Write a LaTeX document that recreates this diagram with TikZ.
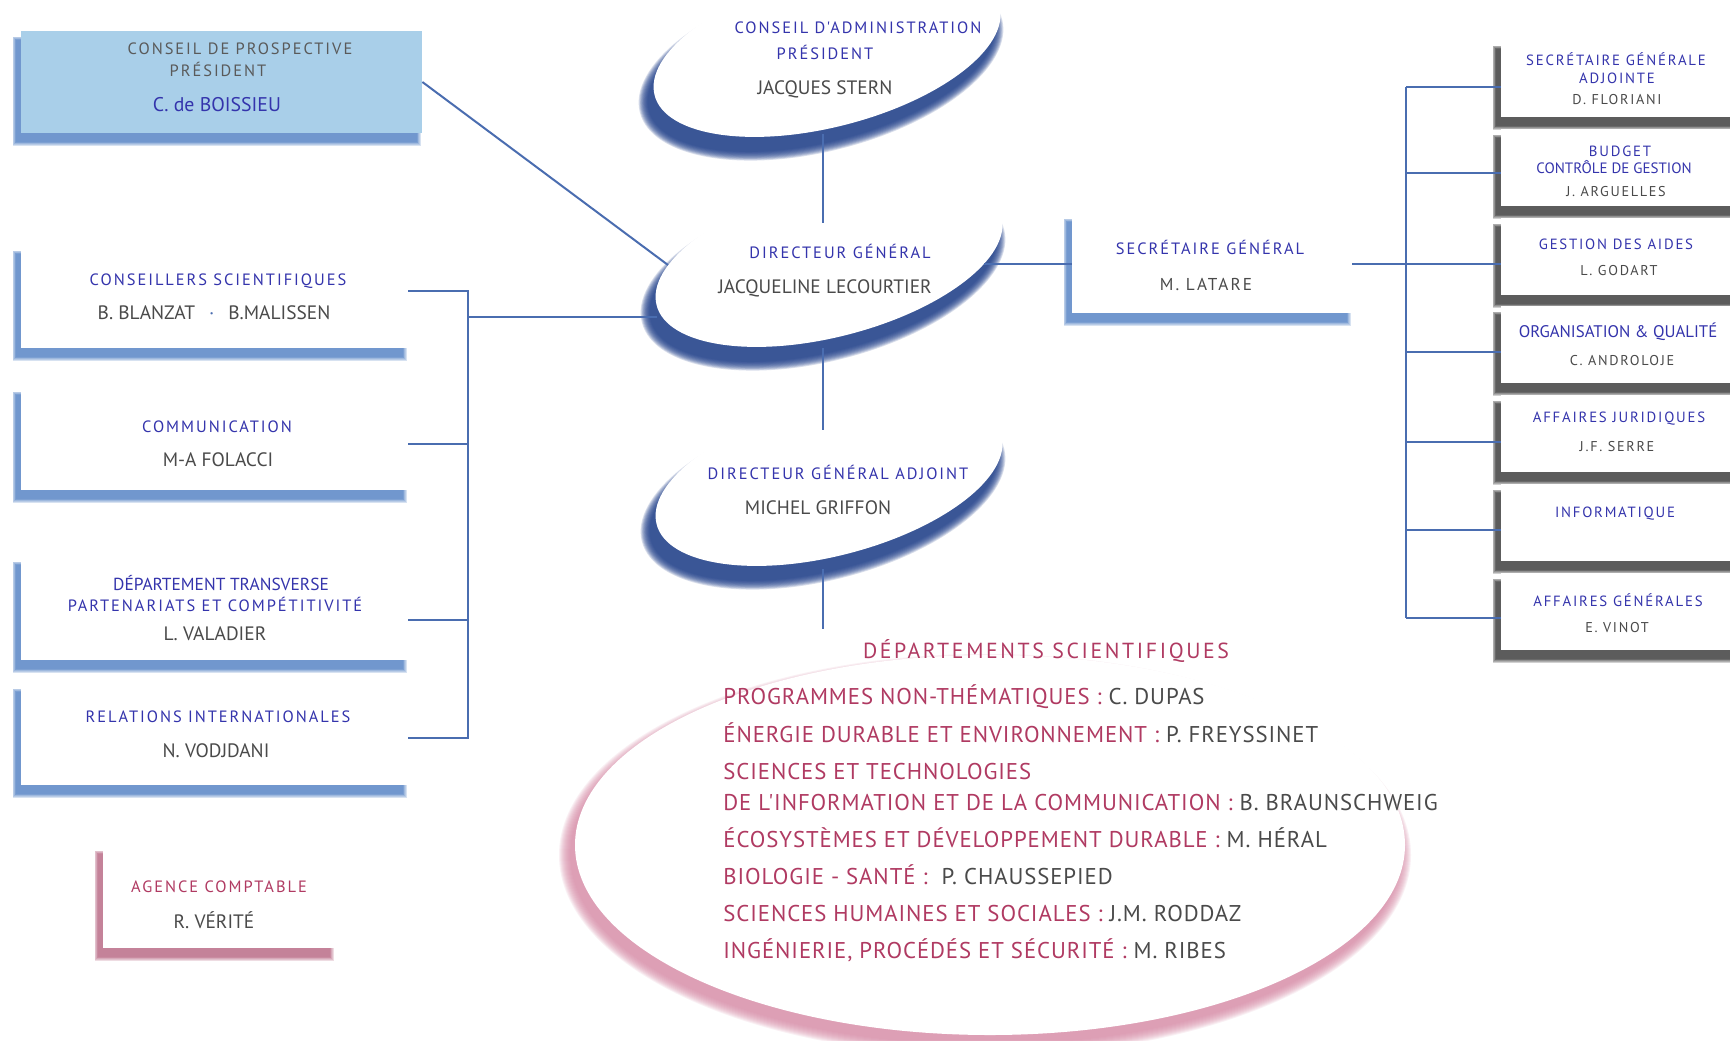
\documentclass[tikz,border=0pt]{standalone}
\usepackage{fontspec}
\setmainfont{PT Sans}
\newfontfamily\capsfont[LetterSpace=12]{PT Sans}
\newfontfamily\deptfont[LetterSpace=4]{PT Sans}
\usetikzlibrary{shapes.geometric,fit}
\definecolor{headblue}{HTML}{3434AC}
\definecolor{namegray}{HTML}{4A4A4A}
\definecolor{capgray}{HTML}{5A5A5A}
\definecolor{deptpink}{HTML}{B03A62}
\definecolor{linkblue}{HTML}{4A6DB0}
\definecolor{prospblue}{HTML}{A9CFE9}
\definecolor{ovalshade}{HTML}{1F3F8A}
\definecolor{cardshade}{HTML}{4A7BC2}
\definecolor{grayshade}{HTML}{2E2E2E}
\definecolor{pinkshade}{HTML}{D88AA6}
\definecolor{roseshade}{HTML}{B4607E}
\begin{document}
\begin{tikzpicture}[x=0.5pt,y=-0.5pt,
  head/.style={text=headblue,inner sep=0pt,text depth=0pt,text height=5.8pt,
    font=\capsfont\fontsize{8.2}{9}\selectfont},
  headr/.style={head,text height=5.2pt,font=\capsfont\fontsize{7.4}{8}\selectfont},
  tight/.style={head,font=\fontsize{8.4}{9}\selectfont},
  who/.style={text=namegray,inner sep=0pt,text depth=0pt,text height=6.8pt,
    font=\fontsize{9.7}{11}\selectfont},
  whor/.style={who,text height=5pt,font=\capsfont\fontsize{7.1}{8}\selectfont},
  dept/.style={text=deptpink,anchor=west,inner sep=0pt,text depth=0pt,text height=7.9pt,
    font=\deptfont\fontsize{11.4}{12}\selectfont},
  link/.style={draw=linkblue,line width=1pt},
  card/.style={fill=white,inner sep=0pt},
  oval/.style={ellipse,fill=white,inner sep=0pt,minimum width=178pt,minimum height=76pt,rotate=14.4}]
\useasboundingbox (0,0) rectangle (1730,1040);
\clip (0,0) rectangle (1730,1040);
\fill[white] (0,0) rectangle (1730,1040);

% departements oval
\foreach \k in {0,...,11}
  \fill[pinkshade,opacity=0.12] (985,855) ellipse [x radius=207.5pt+\k*0.5pt,y radius=95pt+\k*0.5pt];
\node[ellipse,fill=white,inner sep=0pt,minimum width=415pt,minimum height=190pt] (depts) at (990,845) {};

% left cards
\foreach \k in {0,...,5}
  \fill[cardshade,opacity=0.22] (16-\k*0.7,40-\k*0.7) rectangle (417+\k*0.7,142+\k*0.7);
\node[card,fill=prospblue,fit={(21,31) (422,133)}] (cp) {};
\foreach \nm/\ya/\yb in {cs/245/348,comm/386/490,dt/556/660,ri/683/785}{
  \foreach \k in {0,...,5}
    \fill[cardshade,opacity=0.22] (16-\k*0.7,\ya+9-\k*0.7) rectangle (403+\k*0.7,\yb+9+\k*0.7);
  \node[card,fit={(21,\ya) (408,\yb)}] (\nm) {};
}
\foreach \k in {0,...,5}
  \fill[roseshade,opacity=0.22] (98-\k*0.7,854-\k*0.7) rectangle (330+\k*0.7,957+\k*0.7);
\node[card,fit={(103,845) (335,948)}] (ac) {};

% secretariat
\foreach \k in {0,...,5}
  \fill[cardshade,opacity=0.22] (1067-\k*0.7,222-\k*0.7) rectangle (1347+\k*0.7,322+\k*0.7);
\node[card,fit={(1072,213) (1352,313)}] (sg) {};
\foreach \nm/\ya in {r1/40,r2/129,r3/218,r4/306,r5/395,r6/484,r7/573}{
  \foreach \k in {0,...,5}
    \fill[grayshade,opacity=0.22] (1496-\k*0.7,\ya+9-\k*0.7) rectangle (1760,\ya+86+\k*0.7);
  \node[card,fit={(1501,\ya) (1760,\ya+77)}] (\nm) {};
}

% direction ovals
\foreach \nm/\cx/\cy in {ca/827/51,dg/829/261,dga/829/480}{
  \foreach \k in {0,...,10}
    \fill[ovalshade,opacity=0.17,rotate around={14.4:(\cx-6,\cy+15)}]
      (\cx-6,\cy+15) ellipse [x radius=89pt+\k*0.45pt,y radius=38pt+\k*0.45pt];
  \node[oval] (\nm) at (\cx,\cy) {};
}

% links
\coordinate (lb1) at (468,291);
\coordinate (lb2) at (468,444);
\coordinate (lb3) at (468,620);
\coordinate (lb4) at (468,738);
\coordinate (lbdg) at (468,317);
\coordinate (dgW) at (657,317);
\coordinate (dgNW) at (668,265);
\coordinate (dgE) at (984,264);
\coordinate (caS) at (823,134);
\coordinate (dgN) at (823,223);
\coordinate (dgS) at (823,348);
\coordinate (dgaN) at (823,430);
\coordinate (dgaS) at (823,569);
\coordinate (deptN) at (823,629);
\draw[link] (cs.east |- lb1) -- (lb1) -- (lb4) -- (ri.east |- lb4);
\draw[link] (comm.east |- lb2) -- (lb2);
\draw[link] (dt.east |- lb3) -- (lb3);
\draw[link] (lbdg) -- (dgW);
\draw[link] (cp.east) -- (dgNW);
\draw[link] (caS) -- (dgN);
\draw[link] (dgS) -- (dgaN);
\draw[link] (dgaS) -- (deptN);
\foreach \i/\y in {1/87,2/173,3/264,4/352,5/442,6/530,7/618}{
  \coordinate (rb\i) at (1406,\y);
  \draw[link] (rb\i) -- (r\i.west |- rb\i);
}
\draw[link] (rb1) -- (rb7);
\draw[link] (dgE) -- (sg.west |- dgE);
\draw[link] (sg.east |- dgE) -- (rb3);

% texts
\node[head,text=capgray] (cp1) at (240,49) {CONSEIL DE PROSPECTIVE};
\node[head,text=capgray] (cp2) at (218,71) {PRÉSIDENT};
\node[who,text=headblue,font=\fontsize{9.9}{11}\selectfont] (cp3) at (217,105) {C. de BOISSIEU};
\node[head] (ca1) at (858,28) {CONSEIL D'ADMINISTRATION};
\node[head] (ca2) at (825,54) {PRÉSIDENT};
\node[who] (ca3) at (825,88) {JACQUES STERN};
\node[head] (dg1) at (840,253) {DIRECTEUR GÉNÉRAL};
\node[who] (dg2) at (825,287) {JACQUELINE LECOURTIER};
\node[head] (dga1) at (838,474) {DIRECTEUR GÉNÉRAL ADJOINT};
\node[who] (dga2) at (818,508) {MICHEL GRIFFON};
\node[head] (sg1) at (1210,249) {SECRÉTAIRE GÉNÉRAL};
\node[whor,font=\capsfont\fontsize{8.6}{9}\selectfont,text height=6pt] (sg2) at (1206,284) {M. LATARE};

\node[head] (cs1) at (218,280) {CONSEILLERS SCIENTIFIQUES};
\node[who] (cs2) at (214,313) {B. BLANZAT\hspace{7pt}{\color{linkblue}·}\hspace{7pt}B.MALISSEN};
\node[head] (comm1) at (217,427) {COMMUNICATION};
\node[who] (comm2) at (218,460) {M-A FOLACCI};
\node[tight,font=\fontsize{8.7}{9}\selectfont] (dt1) at (221,585) {DÉPARTEMENT TRANSVERSE};
\node[head] (dt2) at (215,606) {PARTENARIATS ET COMPÉTITIVITÉ};
\node[who] (dt3) at (215,634) {L. VALADIER};
\node[head] (ri1) at (218,717) {RELATIONS INTERNATIONALES};
\node[who] (ri2) at (216,751) {N. VODJDANI};
\node[head,text=deptpink] (ac1) at (219,887) {AGENCE COMPTABLE};
\node[who] (ac2) at (214,922) {R. VÉRITÉ};

\node[headr] (r1a) at (1616,60) {SECRÉTAIRE GÉNÉRALE};
\node[headr] (r1b) at (1617,78) {ADJOINTE};
\node[whor] (r1c) at (1617,99) {D. FLORIANI};
\node[headr] (r2a) at (1620,151) {BUDGET};
\node[tight,font=\fontsize{7.5}{8}\selectfont] (r2b) at (1614,168) {CONTRÔLE DE GESTION};
\node[whor] (r2c) at (1616,191) {J. ARGUELLES};
\node[headr] (r3a) at (1616,244) {GESTION DES AIDES};
\node[whor] (r3b) at (1619,270) {L. GODART};
\node[tight] (r4a) at (1618,332) {ORGANISATION \& QUALITÉ};
\node[whor] (r4b) at (1622,360) {C. ANDROLOJE};
\node[headr] (r5a) at (1619,417) {AFFAIRES JURIDIQUES};
\node[whor] (r5b) at (1617,446) {J.F. SERRE};
\node[headr] (r6a) at (1615,512) {INFORMATIQUE};
\node[headr] (r7a) at (1618,601) {AFFAIRES GÉNÉRALES};
\node[whor] (r7b) at (1617,627) {E. VINOT};

\node[dept,anchor=center,font=\capsfont\fontsize{10.9}{12}\selectfont] (dh) at (1046,651) {DÉPARTEMENTS SCIENTIFIQUES};
\foreach \y/\fld/\boss [count=\i] in {697/{PROGRAMMES NON-THÉMATIQUES :}/{C. DUPAS},
    735/{ÉNERGIE DURABLE ET ENVIRONNEMENT :}/{P. FREYSSINET},
    772/{SCIENCES ET TECHNOLOGIES}/{},
    803/{DE L'INFORMATION ET DE LA COMMUNICATION :}/{B. BRAUNSCHWEIG},
    840/{ÉCOSYSTÈMES ET DÉVELOPPEMENT DURABLE :}/{M. HÉRAL},
    877/{BIOLOGIE - SANTÉ :}/{\ P. CHAUSSEPIED},
    914/{SCIENCES HUMAINES ET SOCIALES :}/{J.M. RODDAZ},
    951/{INGÉNIERIE, PROCÉDÉS ET SÉCURITÉ :}/{M. RIBES}}
  \node[dept] (d\i) at (723,\y) {\fld\ {\color{namegray}\boss}};
\end{tikzpicture}
\end{document}
